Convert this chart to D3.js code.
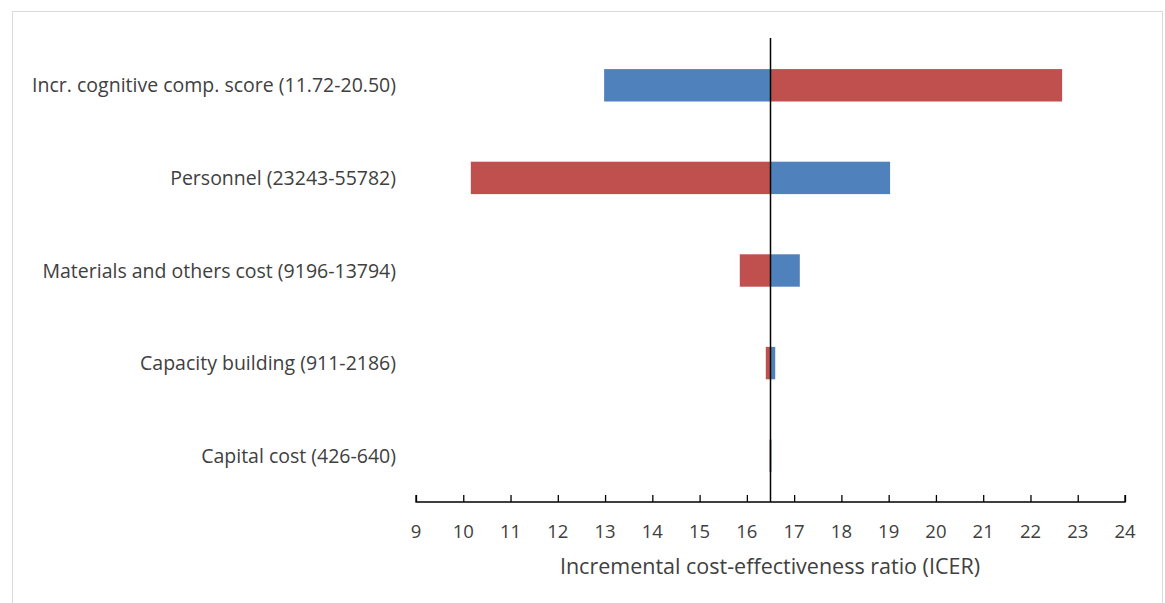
<!DOCTYPE html>
<html><head><meta charset="utf-8">
<script src="https://cdn.jsdelivr.net/npm/d3@7/dist/d3.min.js"></script>
<style>body{margin:0;background:#fff;} svg{display:block;}</style>
</head><body><svg id="c" width="1165" height="603"></svg>
<script>
const categories = ["Incr. cognitive comp. score (11.72-20.50)","Personnel (23243-55782)","Materials and others cost (9196-13794)","Capacity building (911-2186)","Capital cost (426-640)"];
const lowICER  = [12.98, 19.03, 17.12, 16.60, 16.52];   // blue series
const highICER = [22.67, 10.16, 15.85, 16.40, 16.48];   // red series
const baseICER = 16.5;
const xTicks = [9,10,11,12,13,14,15,16,17,18,19,20,21,22,23,24];
const xTitle = "Incremental cost-effectiveness ratio (ICER)";

const svg = d3.select("#c");
const font = "'Open Sans', sans-serif";
svg.append("rect").attr("x",12.5).attr("y",11.5).attr("width",1150).attr("height",620)
  .attr("fill","#fff").attr("stroke","#d9d9d9").attr("stroke-width",1);

const x = d3.scaleLinear().domain([9,24]).range([416,1125]);
const y = d3.scaleBand().domain(categories).range([39,502]).paddingInner(0.65).paddingOuter(0.325);

const blue = "#4F81BD", red = "#C0504D";
const rows = categories.map((c,i)=>({c, lo:lowICER[i], hi:highICER[i]}));
function seg(g, key, color){
  g.selectAll("rect."+key).data(rows).join("rect").attr("class",key)
    .attr("x",d=>x(Math.min(d[key],baseICER)))
    .attr("width",d=>Math.abs(x(d[key])-x(baseICER)))
    .attr("y",d=>y(d.c)).attr("height",y.bandwidth()).attr("fill",color);
}
const g = svg.append("g");
seg(g,"hi",red);
seg(g,"lo",blue);

// base line
svg.append("line").attr("x1",x(baseICER)).attr("x2",x(baseICER)).attr("y1",38).attr("y2",502)
  .attr("stroke","#000").attr("stroke-width",1.5);

// x axis
const ax = svg.append("g").attr("transform","translate(0,502)")
  .call(d3.axisTop(x).tickValues(xTicks).tickSize(7).tickFormat(d3.format("d")));
ax.selectAll("path,line").attr("stroke","#000").attr("stroke-width",1.3);
ax.select(".domain").attr("d", `M${x(9)},-7V0H${x(24)}V-7`);
ax.selectAll("text").remove();
svg.append("g").selectAll("text").data(xTicks).join("text")
  .attr("x",d=>x(d)).attr("y",538).attr("text-anchor","middle")
  .attr("font-family",font).attr("font-size",18.5).attr("fill","#404040").text(d=>d);

// category labels
svg.append("g").selectAll("text").data(categories).join("text")
  .attr("x",396).attr("y",d=>y(d)+y.bandwidth()/2).attr("dy","0.36em").attr("text-anchor","end")
  .attr("font-family",font).attr("font-size",19.5).attr("fill","#404040").text(d=>d);

svg.append("text").attr("x",770).attr("y",574).attr("text-anchor","middle")
  .attr("font-family",font).attr("font-size",21.5).attr("fill","#404040").text(xTitle);
</script></body></html>
